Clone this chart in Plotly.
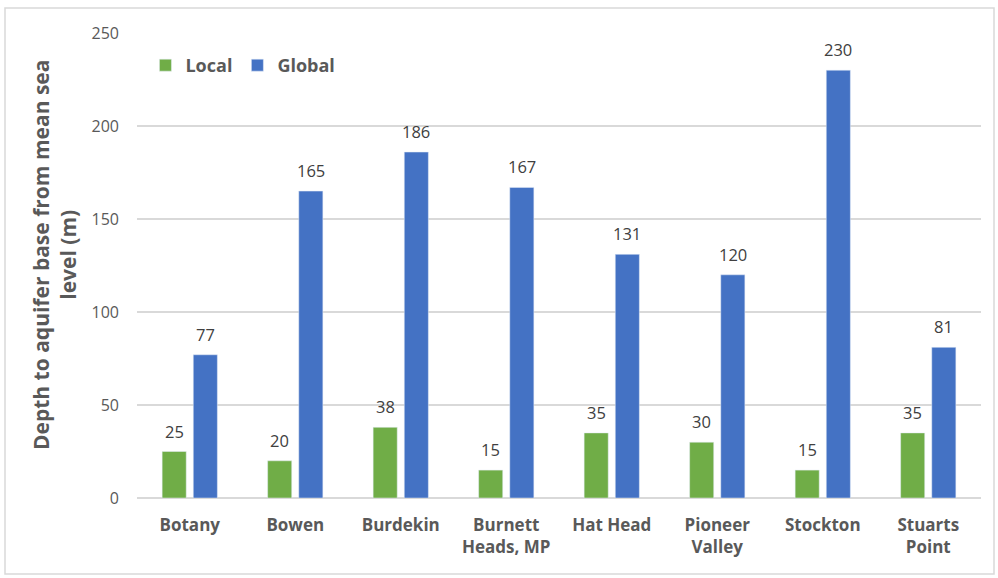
import plotly.graph_objects as go

categories = ["Botany", "Bowen", "Burdekin", "Burnett<br>Heads, MP", "Hat Head",
              "Pioneer<br>Valley", "Stockton", "Stuarts<br>Point"]
local_vals = [25, 20, 38, 15, 35, 30, 15, 35]
global_vals = [77, 165, 186, 167, 131, 120, 230, 81]
y_ticks = [0, 50, 100, 150, 200, 250]

W, H = 998, 578
L, R, T, B = 137, 17, 33, 80
pw, ph = W - L - R, H - T - B

font_fam = "'Open Sans', sans-serif"
gray = "#595959"

fig = go.Figure()
fig.add_trace(go.Bar(name="Local", x=categories, y=local_vals, marker_color="#70AD47"))
fig.add_trace(go.Bar(name="Global", x=categories, y=global_vals, marker_color="#4472C4"))

# data labels as annotations above each bar
slot_px = pw / len(categories) * (1 - 0.41) / 2
for vals, sign in ((local_vals, -1), (global_vals, 1)):
    for c, v in zip(categories, vals):
        fig.add_annotation(x=c, y=v, text=str(v), showarrow=False, xref="x", yref="y",
                           xanchor="center", yanchor="bottom", xshift=sign * slot_px / 2,
                           yshift=7, font=dict(size=16.5, color="#404040", family=font_fam))

fig.update_layout(
    width=W, height=H,
    margin=dict(l=L, r=R, t=T, b=B),
    paper_bgcolor="white", plot_bgcolor="white",
    barmode="group", bargap=0.41, bargroupgap=0.226,
    font=dict(family=font_fam, color=gray),
    showlegend=True,
    legend=dict(orientation="h", x=0.01, y=0.97, xanchor="left", yanchor="top",
                font=dict(size=18, color=gray, family=font_fam, weight="bold"),
                bgcolor="rgba(0,0,0,0)", itemwidth=30, traceorder="normal"),
    xaxis=dict(showgrid=False, showline=False, ticks="", ticklabelstandoff=15,
               tickfont=dict(size=17, color=gray, family=font_fam, weight="bold")),
    yaxis=dict(range=[0, 250], tickvals=y_ticks, showgrid=True, gridcolor="#D9D9D9",
               gridwidth=1.5, zeroline=True, zerolinecolor="#D9D9D9", zerolinewidth=1.5,
               showline=False, ticks="", ticklen=0, ticklabelstandoff=17,
               tickfont=dict(size=16, color=gray, family=font_fam)),
)

fig.add_annotation(text="Depth to aquifer base from mean sea<br>level (m)",
                   xref="paper", yref="paper", x=(54 - L) / pw, y=(H - B - 255) / ph,
                   xanchor="center", yanchor="middle", textangle=-90, showarrow=False,
                   font=dict(size=21, color=gray, family=font_fam, weight="bold"))

fig.add_shape(type="rect", xref="paper", yref="paper",
              x0=(5 - L) / pw, x1=(994 - L) / pw,
              y0=(H - B - 574) / ph, y1=(H - B - 8) / ph,
              line=dict(color="#D9D9D9", width=1.5), fillcolor="rgba(0,0,0,0)", layer="below")

fig.write_html("out.html")
